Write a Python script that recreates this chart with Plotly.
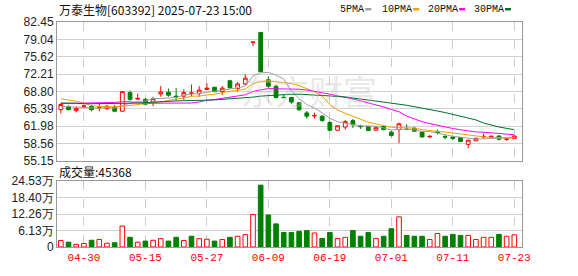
import plotly.graph_objects as go

dates = ["04-25","04-28","04-29","04-30","05-06","05-07","05-08","05-09","05-12","05-13",
         "05-14","05-15","05-16","05-19","05-20","05-21","05-22","05-23","05-26","05-27",
         "05-28","05-29","05-30","06-03","06-04","06-05","06-06","06-09","06-10","06-11",
         "06-12","06-13","06-16","06-17","06-18","06-19","06-20","06-23","06-24","06-25",
         "06-26","06-27","06-30","07-01","07-02","07-03","07-04","07-07","07-08","07-09",
         "07-10","07-11","07-14","07-15","07-16","07-17","07-18","07-21","07-22","07-23"]

opens = [65.24,65.87,65.05,65.90,65.87,65.60,65.43,65.74,64.93,68.58,
         67.30,67.26,66.69,68.33,68.65,67.90,67.89,68.39,68.39,69.21,
         69.65,68.77,70.92,69.40,70.29,78.45,80.40,71.10,69.84,67.66,
         67.63,66.60,64.60,64.00,63.97,62.71,61.20,61.83,63.09,62.00,
         61.96,61.20,61.96,60.82,61.32,61.45,61.60,60.83,59.90,60.90,
         59.95,59.88,59.76,58.43,59.12,59.90,59.90,60.07,59.40,59.57]
highs = [66.50,66.10,65.87,66.20,66.20,66.37,66.20,66.20,68.90,69.00,
         68.40,67.50,67.77,69.90,69.40,69.52,69.21,70.16,69.84,70.41,
         69.70,69.90,71.10,70.66,72.18,78.50,80.45,71.74,70.16,68.27,
         67.70,66.75,64.98,64.67,64.16,63.03,62.10,63.22,63.41,62.27,
         62.00,61.96,62.00,61.13,62.71,62.40,61.80,61.00,60.20,61.33,
         60.32,59.94,59.80,59.30,59.70,60.58,60.20,60.20,59.57,60.10]
lows = [64.50,65.10,64.70,65.50,64.90,64.93,65.20,64.87,64.87,67.00,
        67.25,66.10,65.93,67.77,67.77,67.00,67.13,67.89,67.76,69.21,
        68.70,68.14,69.40,68.77,70.03,77.70,72.60,69.53,67.44,67.60,
        66.37,64.99,63.47,63.53,62.90,61.07,61.15,61.32,61.64,61.45,
        61.10,61.20,61.20,59.94,58.67,61.20,60.94,59.76,59.70,60.39,
        59.44,59.25,58.95,57.67,59.10,59.57,59.60,59.19,59.12,59.50]
closes = [66.25,65.24,65.50,65.95,65.24,65.65,65.93,64.93,68.77,67.26,
          67.45,66.31,67.39,68.71,68.08,67.71,68.58,68.52,69.08,69.46,
          68.77,69.46,69.53,70.29,71.42,78.50,72.70,69.84,67.63,67.60,
          66.74,65.25,63.97,64.10,63.09,61.20,62.08,62.90,62.27,61.90,
          61.13,61.70,61.32,60.19,62.46,61.35,61.00,59.88,60.00,60.75,
          59.85,59.60,59.00,59.25,59.63,60.00,60.00,59.44,59.50,60.07]

ma5 = [65.90,65.80,65.70,65.70,65.64,65.51,65.65,65.53,66.10,66.50,
       66.87,66.94,67.44,67.42,67.59,67.64,68.09,68.32,68.39,68.67,
       68.88,69.06,69.26,69.50,69.89,71.84,72.49,72.55,72.02,71.25,
       68.90,67.41,66.24,65.53,64.63,63.52,62.89,62.67,62.31,62.07,
       62.06,61.98,61.66,61.25,61.36,61.40,61.26,60.98,60.94,60.60,
       60.30,60.02,59.84,59.69,59.47,59.50,59.58,59.66,59.71,59.80]
ma10 = [67.38,67.15,66.90,66.50,66.05,65.85,65.80,65.80,65.90,66.07,
        66.19,66.30,66.49,66.76,67.05,67.25,67.52,67.88,67.91,68.13,
        68.26,68.58,68.79,68.95,69.28,70.36,70.77,70.91,70.76,70.57,
        70.37,69.95,69.39,68.78,67.94,66.21,65.15,64.46,63.92,63.35,
        62.79,62.43,62.17,61.78,61.72,61.73,61.62,61.32,61.09,60.98,
        60.85,60.64,60.41,60.31,60.03,59.90,59.80,59.75,59.70,59.63]
ma20 = [66.45,66.50,66.50,66.50,66.55,66.62,66.62,66.65,66.80,66.80,
        66.55,66.50,66.50,66.50,66.50,66.50,66.50,66.55,66.75,67.10,
        67.23,67.44,67.64,67.85,68.16,68.81,69.15,69.39,69.33,69.35,
        69.32,69.26,69.09,68.86,68.61,68.29,67.96,67.68,67.34,66.96,
        66.58,66.19,65.78,65.28,64.83,63.97,63.39,62.89,62.51,62.16,
        61.82,61.54,61.29,61.05,60.87,60.81,60.71,60.54,60.40,60.31]
ma30 = [66.55,66.55,66.50,66.40,66.40,66.40,66.40,66.40,66.50,66.50,
        66.55,66.65,66.70,66.80,66.85,66.95,67.00,67.00,67.05,67.10,
        67.15,67.25,67.35,67.45,67.55,67.70,67.90,68.00,68.10,68.26,
        68.27,68.27,68.22,68.16,68.09,67.94,67.81,67.75,67.53,67.35,
        67.14,66.99,66.78,66.50,66.31,66.10,65.85,65.56,65.26,64.97,
        64.67,64.34,63.99,63.62,63.23,62.61,62.19,61.84,61.57,61.32]

# volume in 万
volume = [2.4,1.8,1.0,1.3,2.5,2.8,1.4,1.6,7.8,3.6,
          1.8,2.2,2.5,3.1,2.2,3.6,2.4,4.0,3.1,2.9,
          2.2,2.8,3.6,4.0,4.6,12.1,23.0,11.9,8.6,5.4,
          5.4,5.8,6.1,5.2,3.2,5.4,3.2,3.6,6.1,4.0,
          5.4,3.2,4.0,6.8,11.2,4.3,4.0,4.0,2.8,5.0,
          4.0,4.7,4.3,4.3,2.8,3.6,3.6,4.7,4.0,4.5368]
vol_up = "RGRRGRRGRGRGRRGGRGRRGRGRRRGGGGGGGRGGRRGGGRGGRGGGRRGGGRRRRGRR"

price_ticks = [55.15, 58.56, 61.98, 65.39, 68.80, 72.21, 75.62, 79.04, 82.45]
vol_ticks = [0, 6.13, 12.26, 18.40, 24.53]
vol_ticktext = ["0", "6.13万", "12.26万", "18.40万", "24.53万"]
date_ticks = ["04-30", "05-15", "05-27", "06-09", "06-19", "07-01", "07-11", "07-23"]

title_text = "万泰生物[603392] 2025-07-23 15:00"
vol_label = "成交量:45368"
ma_names = ["5PMA", "10PMA", "20PMA", "30PMA"]
ma_colors = ["#a0a0a0", "#f0a000", "#ff00ff", "#006f30"]

RED = "#ff0000"
GREEN = "#008000"
W, H = 578, 276
ML, MR, MT, MB = 56, 56, 22, 21
PW, PH = W - ML - MR, H - MT - MB

def px_x(x):
    return (x - ML) / PW

def px_y(y):
    return (H - MB - y) / PH

fig = go.Figure()

fig.add_trace(go.Candlestick(
    x=dates, open=opens, high=highs, low=lows, close=closes,
    increasing=dict(line=dict(color=RED, width=1), fillcolor="white"),
    decreasing=dict(line=dict(color=GREEN, width=1), fillcolor=GREEN),
    whiskerwidth=0, xaxis="x", yaxis="y", showlegend=False, hoverinfo="skip"))

for vals, col in zip([ma5, ma10, ma20, ma30], ma_colors):
    fig.add_trace(go.Scatter(x=dates, y=vals, mode="lines",
                             line=dict(color=col, width=1),
                             xaxis="x", yaxis="y", showlegend=False, hoverinfo="skip"))

fig.add_trace(go.Bar(
    x=dates, y=volume, width=0.6,
    marker=dict(color=["white" if c == "R" else GREEN for c in vol_up],
                line=dict(color=[RED if c == "R" else GREEN for c in vol_up], width=1)),
    xaxis="x2", yaxis="y2", showlegend=False, hoverinfo="skip"))

axis_common = dict(showline=True, mirror=True, linecolor="#999999", linewidth=1,
                   zeroline=False, ticks="")
xr = [-0.5, 60]
fig.update_layout(
    width=W, height=H, margin=dict(l=ML, r=MR, t=MT, b=MB),
    paper_bgcolor="white", plot_bgcolor="white",
    xaxis=dict(domain=[0, 1], anchor="y", type="category", range=xr,
               tickvals=date_ticks, showticklabels=False,
               showgrid=True, gridcolor="#cccccc", griddash="dash", gridwidth=1,
               rangeslider=dict(visible=False), **axis_common),
    yaxis=dict(domain=[px_y(166), 1], anchor="x", range=[55.15, 82.45],
               tickvals=price_ticks, ticktext=[f"{v:.2f}" for v in price_ticks],
               showgrid=True, gridcolor="#d0d0d0", gridwidth=1,
               tickfont=dict(family="Liberation Sans", size=12, color="#222222"),
               **axis_common),
    xaxis2=dict(domain=[0, 1], anchor="y2", type="category", range=xr, matches="x",
                tickvals=date_ticks, ticktext=date_ticks,
                tickfont=dict(family="Liberation Mono", size=11, color=RED),
                showgrid=True, gridcolor="#cccccc", griddash="dash", gridwidth=1,
                **axis_common),
    yaxis2=dict(domain=[0, px_y(186.7)], anchor="x2", range=[0, 24.53],
                tickvals=vol_ticks, ticktext=vol_ticktext,
                showgrid=True, gridcolor="#d0d0d0", gridwidth=1,
                tickfont=dict(family="Liberation Sans", size=12, color="#222222"),
                **axis_common),
    bargap=0.3,
)

ann = []
ann.append(dict(text=title_text, x=0, y=px_y(9), xref="paper", yref="paper",
                xanchor="left", yanchor="middle", showarrow=False,
                font=dict(family="Noto Sans CJK SC", size=12, color="#111111")))
ann.append(dict(text=vol_label, x=0, y=px_y(177), xref="paper", yref="paper",
                xanchor="left", yanchor="middle", showarrow=False,
                font=dict(family="Noto Sans CJK SC", size=12, color="#111111")))
ann.append(dict(text="东方财富", x=px_x(309), y=px_y(93), xref="paper", yref="paper",
                xanchor="center", yanchor="middle", showarrow=False,
                font=dict(family="Noto Sans CJK SC", size=34, color="rgba(190,190,190,0.35)")))

leg_x = [338, 380, 426, 472]
rect_x = [365, 413, 459, 505]
shapes = []
for name, col, lx, rx in zip(ma_names, ma_colors, leg_x, rect_x):
    ann.append(dict(text=name, x=px_x(lx), y=px_y(9), xref="paper", yref="paper",
                    xanchor="left", yanchor="middle", showarrow=False,
                    font=dict(family="Liberation Mono", size=10, color="#111111")))
    shapes.append(dict(type="rect", xref="paper", yref="paper",
                       x0=px_x(rx), x1=px_x(rx + 6), y0=px_y(10), y1=px_y(7.5),
                       fillcolor=col, line=dict(width=0)))

fig.update_layout(annotations=ann, shapes=shapes)
fig.write_html("out.html")
